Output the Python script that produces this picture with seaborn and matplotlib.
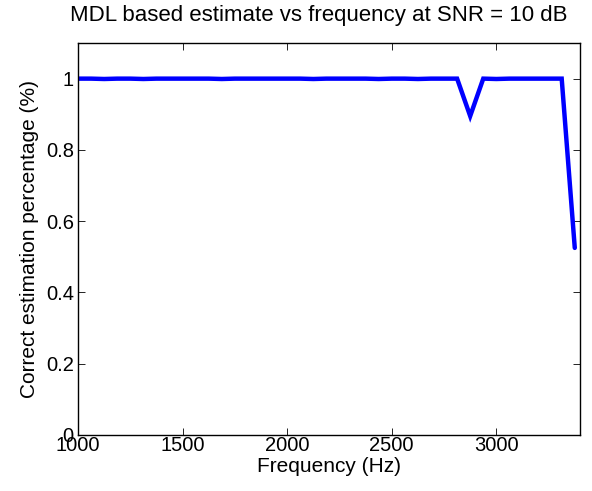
import numpy as np
import pandas as pd
import matplotlib
matplotlib.use("Agg")
import matplotlib.pyplot as plt
import seaborn as sns

# Frequency sweep (Hz) and fraction of trials where MDL picked the right order
frequency_hz = [
    1000.0, 1062.5, 1125.0, 1187.5, 1250.0, 1312.5, 1375.0, 1437.5, 1500.0, 1562.5,
    1625.0, 1687.5, 1750.0, 1812.5, 1875.0, 1937.5, 2000.0, 2062.5, 2125.0, 2187.5,
    2250.0, 2312.5, 2375.0, 2437.5, 2500.0, 2562.5, 2625.0, 2687.5, 2750.0, 2812.5,
    2875.0, 2937.5, 3000.0, 3062.5, 3125.0, 3187.5, 3250.0, 3312.5, 3375.0,
]
correct_rate = [
    1.000, 1.000, 0.999, 1.000, 1.000, 0.999, 1.000, 1.000, 1.000, 1.000,
    1.000, 0.999, 1.000, 1.000, 1.000, 1.000, 1.000, 1.000, 0.999, 1.000,
    1.000, 1.000, 1.000, 0.999, 1.000, 1.000, 0.999, 1.000, 1.000, 1.000,
    0.895, 1.000, 0.999, 1.000, 1.000, 1.000, 1.000, 1.000, 0.525,
]
x_ticks = [1000, 1500, 2000, 2500, 3000]
y_ticks = [0, 0.2, 0.4, 0.6, 0.8, 1.0]
y_tick_labels = ["0", "0.2", "0.4", "0.6", "0.8", "1"]

df = pd.DataFrame({"Frequency (Hz)": frequency_hz, "rate": correct_rate})

sns.set_style("ticks")
plt.rcParams["font.family"] = ["Liberation Sans", "DejaVu Sans"]
plt.rcParams["text.color"] = "black"
plt.rcParams["axes.labelcolor"] = "black"

fig = plt.figure(figsize=(5.92, 4.91), dpi=100)
ax = fig.add_axes([78 / 592, 1 - 435 / 491, (580 - 78) / 592, (435 - 43) / 491])

sns.lineplot(data=df, x="Frequency (Hz)", y="rate", ax=ax,
             color="#0000ff", linewidth=3.2, solid_joinstyle="miter")

ax.set_xlim(1000, 3400)
ax.set_ylim(0, 1.1)
ax.set_xticks(x_ticks)
ax.set_xticklabels([str(t) for t in x_ticks])
ax.set_yticks(y_ticks)
ax.set_yticklabels(y_tick_labels)

ax.tick_params(direction="in", top=True, right=True, length=5, width=0.6,
               labelsize=14.5, colors="black")
ax.tick_params(axis="x", pad=1)
ax.tick_params(axis="y", pad=3)
for side in ax.spines.values():
    side.set_linewidth(1.0)
    side.set_color("black")
    side.set_visible(True)

ax.set_xlabel("Frequency (Hz)", fontsize=15, labelpad=1)
ax.set_ylabel("Correct estimation percentage (%)", fontsize=15, labelpad=5)
ax.set_title("MDL based estimate vs frequency at SNR = 10 dB", fontsize=16,
             pad=16, x=0.48)

fig.savefig("out.png", dpi=100)
